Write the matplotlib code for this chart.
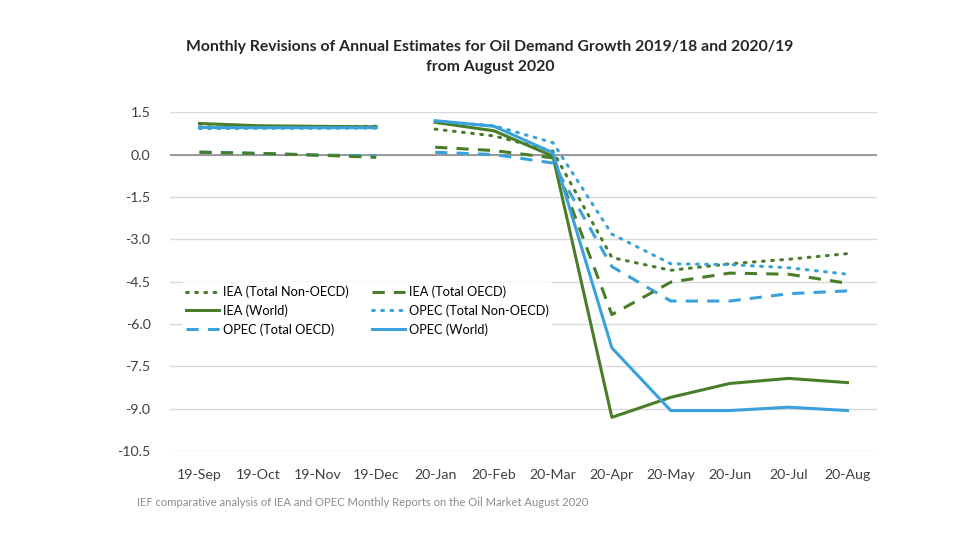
import numpy as np
import matplotlib.pyplot as plt

plt.rcParams['font.family'] = ['Lato', 'DejaVu Sans']

months = ['19-Sep', '19-Oct', '19-Nov', '19-Dec', '20-Jan', '20-Feb',
          '20-Mar', '20-Apr', '20-May', '20-Jun', '20-Jul', '20-Aug']

iea_non_oecd = [0.98, 0.98, 0.99, 1.00, 0.90, 0.66, 0.12, -3.65, -4.10, -3.87, -3.71, -3.51]
iea_oecd = [0.08, 0.04, -0.02, -0.10, 0.26, 0.14, -0.12, -5.67, -4.52, -4.20, -4.24, -4.56]
iea_world = [1.10, 1.02, 1.00, 0.98, 1.14, 0.84, -0.06, -9.31, -8.60, -8.11, -7.93, -8.08]
opec_non_oecd = [0.92, 0.93, 0.93, 0.94, 1.18, 1.02, 0.42, -2.82, -3.87, -3.90, -4.01, -4.24]
opec_oecd = [0.09, 0.04, -0.02, -0.04, 0.08, 0.00, -0.30, -3.97, -5.19, -5.19, -4.93, -4.83]
opec_world = [0.96, 0.95, 0.95, 0.95, 1.20, 1.00, 0.06, -6.85, -9.07, -9.07, -8.95, -9.07]

green = '#4A7D2A'
blue = '#3AA2DB'

dot = (0, (0.6, 2.4))
dash = (0, (4, 3))
series = [
    ('IEA (Total Non-OECD)', iea_non_oecd, green, dot),
    ('IEA (World)', iea_world, green, '-'),
    ('OPEC (Total OECD)', opec_oecd, blue, dash),
    ('IEA (Total OECD)', iea_oecd, green, dash),
    ('OPEC (Total Non-OECD)', opec_non_oecd, blue, dot),
    ('OPEC (World)', opec_world, blue, '-'),
]

fig = plt.figure(figsize=(9.8, 5.42), dpi=100)
ax = fig.add_axes([0.1735, 0.168, 0.7214, 0.625])

x = np.arange(len(months))
handles = []
for label, vals, col, ls in series:
    vals = np.array(vals)
    cap = 'round' if ls is dot else 'butt'
    # break between the 2019 and 2020 reporting periods
    h, = ax.plot(x[:4], vals[:4], color=col, linestyle=ls, lw=2.2, label=label,
                 dash_capstyle=cap)
    ax.plot(x[4:], vals[4:], color=col, linestyle=ls, lw=2.2, dash_capstyle=cap)
    handles.append(h)

ax.set_xlim(-0.5, 11.5)
ax.set_ylim(-10.5, 1.5)
yt = np.arange(-10.5, 1.6, 1.5)
ax.set_yticks(yt)
ax.set_yticklabels([f'{v:.1f}' for v in yt])
ax.set_xticks(x)
ax.set_xticklabels(months)
ax.grid(axis='y', color='#d9d9d9', lw=1)
ax.set_axisbelow(True)
ax.axhline(0, color='#8c8c8c', lw=1.2, zorder=1)
for s in ax.spines.values():
    s.set_visible(False)
ax.tick_params(length=0, labelsize=10.2, colors='#404040')
ax.tick_params(axis='x', pad=13)
ax.tick_params(axis='y', pad=14)

leg = ax.legend(handles=handles, ncol=2, loc='upper left', bbox_to_anchor=(0.017, 0.499),
                frameon=True, fontsize=9.2, handlelength=2.6, columnspacing=1.8,
                labelspacing=0.48, handletextpad=0.3, borderaxespad=0, borderpad=0.3)
leg.get_frame().set_facecolor('white')
leg.get_frame().set_edgecolor('none')
leg.get_frame().set_alpha(1)

fig.text(0.5, 0.895, 'Monthly Revisions of Annual Estimates for Oil Demand Growth 2019/18 and 2020/19\nfrom August 2020',
         ha='center', va='center', fontsize=11.3, fontweight='bold', color='#262626', linespacing=1.5)
fig.text(0.14, 0.072, 'IEF comparative analysis of IEA and OPEC Monthly Reports on the Oil Market August 2020',
         ha='left', va='center', fontsize=8.1, color='#8c8c8c')

fig.savefig('out.png', dpi=100)
